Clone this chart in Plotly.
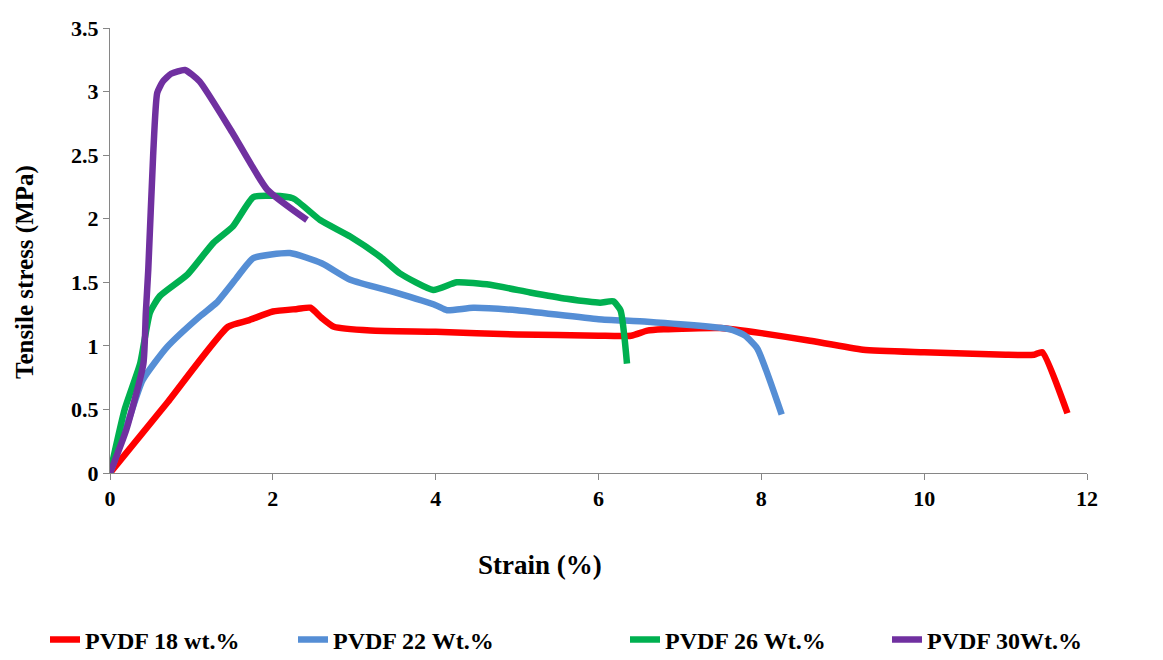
import plotly.graph_objects as go

red_x = [0, 0.7, 1.45, 1.7, 2.0, 2.3, 2.46, 2.6, 2.75, 3.2, 4.0, 5.0, 6.0, 6.4, 6.6, 6.8, 7.5, 8.0, 8.6, 9.25, 10.0, 11.0, 11.35, 11.45, 11.76]
red_y = [0, 0.55, 1.15, 1.2, 1.27, 1.29, 1.30, 1.22, 1.15, 1.12, 1.11, 1.09, 1.08, 1.08, 1.12, 1.13, 1.14, 1.1, 1.04, 0.97, 0.95, 0.93, 0.93, 0.95, 0.47]

blue_x = [0, 0.2, 0.4, 0.7, 1.1, 1.31, 1.55, 1.76, 2.21, 2.6, 2.95, 3.5, 4.0, 4.14, 4.46, 5.0, 6.0, 6.6, 7.62, 7.8, 7.95, 8.25]
blue_y = [0, 0.36, 0.73, 0.99, 1.23, 1.34, 1.53, 1.69, 1.73, 1.65, 1.52, 1.42, 1.32, 1.28, 1.30, 1.28, 1.21, 1.19, 1.13, 1.08, 0.98, 0.46]

green_x = [0, 0.18, 0.37, 0.49, 0.61, 0.95, 1.27, 1.51, 1.76, 2.0, 2.25, 2.58, 2.95, 3.32, 3.56, 3.97, 4.26, 4.67, 5.16, 5.61, 6.02, 6.18, 6.27, 6.35]
green_y = [0, 0.5, 0.86, 1.26, 1.39, 1.56, 1.81, 1.94, 2.17, 2.18, 2.16, 1.99, 1.86, 1.70, 1.57, 1.44, 1.50, 1.48, 1.42, 1.37, 1.34, 1.35, 1.28, 0.86]

purple_x = [0, 0.2, 0.41, 0.44, 0.47, 0.53, 0.58, 0.65, 0.75, 0.92, 1.1, 1.5, 1.93, 2.42]
purple_y = [0, 0.34, 0.86, 1.26, 1.6, 2.5, 2.99, 3.08, 3.14, 3.17, 3.08, 2.68, 2.23, 1.99]

names = ["PVDF 18 wt.%", "PVDF 22 Wt.%", "PVDF 26 Wt.%", "PVDF 30Wt.%"]
colors = ["#FF0000", "#558ED5", "#00B050", "#7030A0"]
legend_ids = ["legend", "legend2", "legend3", "legend4"]
legend_px = [45, 293, 625, 887]   # left edge of each legend block (page px)

FONT = "Liberation Serif"
OFF = 8  # page body offset

fig = go.Figure()
for xs, ys, nm, c, lg in zip([red_x, blue_x, green_x, purple_x],
                             [red_y, blue_y, green_y, purple_y], names, colors, legend_ids):
    fig.add_trace(go.Scatter(x=xs, y=ys, name=nm, mode="lines", legend=lg,
                             line=dict(color=c, width=6.5, shape="spline", smoothing=0.5)))

axis_common = dict(showgrid=False, zeroline=False, showline=True, linecolor="#868686",
                   linewidth=1, ticks="outside", ticklen=6, tickcolor="#868686",
                   tickfont=dict(family=FONT, size=22, color="black", weight="bold"))

fig.update_xaxes(range=[0, 12], dtick=2, tick0=0, **axis_common)
fig.update_yaxes(range=[0, 3.5], dtick=0.5, tick0=0, **axis_common)

legend_font = dict(family=FONT, size=24, color="black", weight="bold")
layout_legends = {}
for lg, px in zip(legend_ids, legend_px):
    layout_legends[lg] = dict(xref="container", x=(px - OFF) / 1163, xanchor="left",
                              yref="container", y=1 - (640 - OFF) / 660, yanchor="middle",
                              font=legend_font, bgcolor="rgba(0,0,0,0)")

L, R, T, B = 110, 1087, 28, 473  # target plot area on page
fig.update_layout(
    width=1163, height=660,
    margin=dict(l=L - OFF, r=1163 + OFF - R, t=T - OFF, b=660 + OFF - B, autoexpand=False),
    plot_bgcolor="white", paper_bgcolor="white",
    font=dict(family=FONT, color="black"),
    showlegend=True,
    annotations=[
        dict(text="Strain (%)", xref="paper", yref="paper", x=(540 - L) / (R - L),
             y=(B - 565) / (B - T), showarrow=False,
             font=dict(family=FONT, size=27, weight="bold"),
             xanchor="center", yanchor="middle"),
        dict(text="Tensile stress (MPa)", xref="paper", yref="paper", x=(25 - L) / (R - L),
             y=(B - 272) / (B - T), showarrow=False,
             font=dict(family=FONT, size=25, weight="bold"),
             textangle=-90, xanchor="center", yanchor="middle"),
    ],
    **layout_legends,
)

fig.write_html("out.html")
